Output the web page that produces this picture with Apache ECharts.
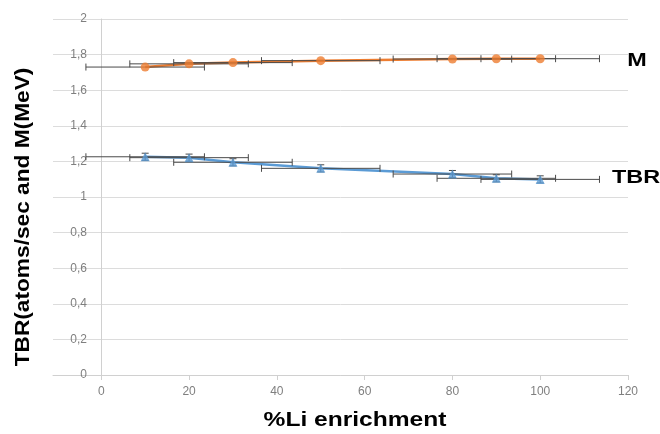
<!DOCTYPE html>
<html>
<head>
<meta charset="utf-8">
<script src="https://cdn.jsdelivr.net/npm/echarts@6/dist/echarts.min.js"></script>
<style>html,body{margin:0;padding:0;background:#fff}#c{width:660px;height:434px}</style>
</head>
<body>
<div id="c"></div>
<script>
var enrichment = [10, 20, 30, 50, 80, 90, 100];
var mValues = [1.73, 1.748, 1.755, 1.766, 1.775, 1.777, 1.777];
var tbrValues = [1.226, 1.221, 1.195, 1.161, 1.129, 1.105, 1.099];
var xError = [13.5, 13.5, 13.5, 13.5, 13.5, 13.5, 13.5];
var tbrYError = [0.02, 0.02, 0.02, 0.02, 0.02, 0.02, 0.02];
var xTickValues = [0, 20, 40, 60, 80, 100, 120];

var FONT = '"Liberation Sans", Arial, sans-serif';

function pairs(ys) { return enrichment.map(function (x, i) { return [x, ys[i]]; }); }
function errData(ys, ye) { return enrichment.map(function (x, i) { return [x, ys[i], xError[i], ye ? ye[i] : 0]; }); }

var ERR_COLOR = '#4a4a4a';
function renderErr(params, api) {
  var x = api.value(0), y = api.value(1), ex = api.value(2), ey = api.value(3);
  var a = api.coord([x - ex, y]), b = api.coord([x + ex, y]);
  var st = { stroke: ERR_COLOR, lineWidth: 1 };
  var cap = 3.5;
  var children = [
    { type: 'line', shape: { x1: a[0], y1: a[1], x2: b[0], y2: b[1] }, style: st },
    { type: 'line', shape: { x1: a[0], y1: a[1] - cap, x2: a[0], y2: a[1] + cap }, style: st },
    { type: 'line', shape: { x1: b[0], y1: b[1] - cap, x2: b[0], y2: b[1] + cap }, style: st }
  ];
  if (ey > 0) {
    var c = api.coord([x, y + ey]), d = api.coord([x, y - ey]);
    children.push({ type: 'line', shape: { x1: c[0], y1: c[1], x2: d[0], y2: d[1] }, style: st });
    children.push({ type: 'line', shape: { x1: c[0] - cap, y1: c[1], x2: c[0] + cap, y2: c[1] }, style: st });
    children.push({ type: 'line', shape: { x1: d[0] - cap, y1: d[1], x2: d[0] + cap, y2: d[1] }, style: st });
  }
  return { type: 'group', children: children };
}

var chart = echarts.init(document.getElementById('c'), null, { renderer: 'canvas' });
chart.setOption({
  animation: false,
  backgroundColor: '#fff',
  grid: { left: 53, right: 32, top: 19, bottom: 59, containLabel: false },
  xAxis: {
    type: 'value', min: -11, max: 120,
    axisLine: { show: true, onZero: true, lineStyle: { color: '#d0d0d0', width: 1 } },
    axisTick: { show: true, customValues: xTickValues, length: 5, lineStyle: { color: '#d0d0d0' } },
    axisLabel: { customValues: xTickValues, color: '#7f7f7f', fontSize: 12, fontFamily: FONT, margin: 11 },
    splitLine: { show: false }
  },
  yAxis: {
    type: 'value', min: 0, max: 2, interval: 0.2,
    axisLine: { show: true, onZero: true, lineStyle: { color: '#d0d0d0', width: 1 } },
    axisTick: { show: false },
    axisLabel: {
      color: '#7f7f7f', fontSize: 12, fontFamily: FONT, margin: -34, align: 'right',
      formatter: function (v) { return String(+v.toFixed(1)).replace('.', ','); }
    },
    splitLine: { show: true, lineStyle: { color: '#dcdcdc', width: 1 } }
  },
  series: [
    { type: 'line', data: pairs(mValues), showSymbol: false, symbol: 'none',
      lineStyle: { color: '#ED7D31', width: 2.5 }, z: 2 },
    { type: 'line', data: pairs(tbrValues), showSymbol: false, symbol: 'none',
      lineStyle: { color: '#5B9BD5', width: 2.5 }, z: 2 },
    { type: 'custom', renderItem: renderErr, data: errData(mValues), encode: { x: 0, y: 1 }, z: 3 },
    { type: 'custom', renderItem: renderErr, data: errData(tbrValues, tbrYError), encode: { x: 0, y: 1 }, z: 3 },
    { type: 'scatter', data: pairs(mValues), symbol: 'circle', symbolSize: 9,
      itemStyle: { color: '#ED7D31' }, z: 4 },
    { type: 'scatter', data: pairs(tbrValues), symbol: 'triangle', symbolSize: 9,
      itemStyle: { color: '#5B9BD5' }, z: 4 }
  ],
  graphic: [
    { type: 'text', x: 637, y: 61, scaleX: 1.3,
      style: { text: 'M', font: 'bold 18px ' + FONT, fill: '#000', textAlign: 'center', textVerticalAlign: 'middle' } },
    { type: 'text', x: 612, y: 178, scaleX: 1.3,
      style: { text: 'TBR', font: 'bold 18px ' + FONT, fill: '#000', textAlign: 'left', textVerticalAlign: 'middle' } },
    { type: 'text', x: 355, y: 420, scaleX: 1.17,
      style: { text: '%Li enrichment', font: 'bold 21px ' + FONT, fill: '#000', textAlign: 'center', textVerticalAlign: 'middle' } },
    { type: 'text', x: 23, y: 217, rotation: Math.PI / 2, scaleX: 1.08,
      style: { text: 'TBR(atoms/sec and M(MeV)', font: 'bold 21px ' + FONT, fill: '#000', textAlign: 'center', textVerticalAlign: 'middle' } }
  ]
});
</script>
</body>
</html>
